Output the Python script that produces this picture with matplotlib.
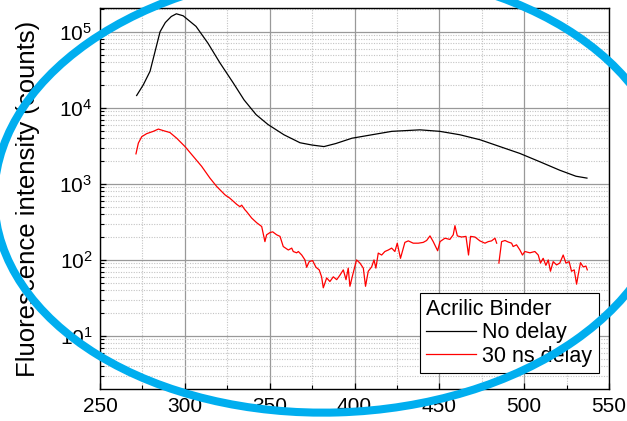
import matplotlib
matplotlib.use('Agg')
import matplotlib.pyplot as plt
import matplotlib.transforms as mtransforms
import numpy as np
from matplotlib.patches import Ellipse
from matplotlib.ticker import LogLocator, MultipleLocator, NullFormatter

# ---- data ----
bx = [271.6, 275.5, 279.5, 285.4, 288.5, 292.0, 295.0, 299.0, 306.6, 313.6,
      320.7, 328.6, 334.9, 342.0, 349.0, 358.4, 367.9, 374.9, 382.0, 389.0,
      398.5, 410.3, 422.0, 438.6, 450.3, 462.1, 474.0, 485.7, 497.5, 509.3,
      521.0, 530.5, 537.0]
by = [14500, 20000, 30200, 100000, 132000, 158500, 172000, 162000, 117500, 70800,
      38900, 21100, 12700, 8130, 6030, 4420, 3470, 3240, 3090, 3390,
      3980, 4420, 4900, 5130, 4900, 4420, 3800, 3090, 2510, 1950,
      1510, 1260, 1190]

rx = [271.2, 272.6, 274.6, 277.5, 281.4, 284.4, 287.3, 291.2, 295.2, 300.1,
      305.0, 309.9, 314.8, 318.8, 323.7, 326.6, 330.6, 332.5, 333.5, 335.4,
      336.4, 339.4, 342.3, 345.3, 347.2, 348.2, 350.2, 351.8, 354.1, 356.1,
      358.0, 361.0, 363.0, 363.9, 365.9, 366.9, 368.9, 370.8, 371.8, 373.3,
      375.3, 377.3, 379.2, 380.6, 381.6, 383.6, 385.5, 387.5, 389.5, 391.4,
      393.4, 395.0, 396.3, 397.3, 398.9, 401.2, 403.2, 405.2, 406.5, 408.1,
      410.1, 411.5, 412.6, 414.0, 416.0, 417.9, 419.9, 421.9, 423.8, 425.2,
      427.1, 429.7, 431.7, 434.6, 437.6, 440.5, 442.5, 444.5, 446.4, 449.0,
      450.4, 453.3, 456.2, 458.2, 459.2, 460.6, 463.1, 465.7, 467.2, 468.4,
      471.0, 473.9, 476.9, 478.8, 480.8, 482.8, 483.8, 484.4, 485.1, 486.7,
      488.7, 490.6, 492.6, 493.5, 495.5, 497.5, 499.0, 500.4, 503.4, 506.3,
      508.3, 509.6, 511.2, 512.8, 514.2, 515.5, 517.1, 519.1, 521.0, 523.0,
      524.6, 526.5, 527.9, 529.5, 530.9, 531.8, 533.2, 534.8, 536.4, 537.2]
ry = [2480, 3430, 4170, 4570, 4900, 5250, 5010, 4730, 3980, 3090,
      2290, 1700, 1190, 923, 716, 646, 537, 501, 525, 457,
      432, 355, 309, 275, 174, 214, 229, 234, 214, 204,
      150, 135, 143, 129, 124, 129, 116, 100, 80, 95,
      98, 80, 74, 60, 43, 58, 52, 60, 55, 63,
      74, 55, 78, 45, 63, 100, 91, 78, 45, 71,
      81, 100, 78, 123, 116, 129, 135, 143, 129, 166,
      105, 170, 178, 166, 166, 170, 180, 207, 174, 132,
      174, 193, 186, 214, 282, 207, 200, 204, 116, 204,
      200, 178, 166, 174, 178, 193, 166, np.nan, 91, 174,
      180, 172, 166, 150, 158, 135, 116, 129, 124, 129,
      116, 91, 105, 85, 100, 71, 95, 86, 91, 116,
      91, 95, 71, 74, 48, 63, 92, 81, 83, 74]

labels = ['No delay', '30 ns delay']
legend_title = 'Acrilic Binder'
ylabel = 'Fluorescence intensity (counts)'

# guide points of the hand-placed highlight ellipse (pixels, y measured from top)
ring_px = [(163, 0), (100, 31), (67, 63), (40, 85), (33, 100), (10, 133), (0, 145),
           (0, 222), (10, 260), (33, 300), (67, 333), (87, 350), (110, 363),
           (157, 385), (190, 398), (240, 407), (290, 412), (330, 413), (367, 408),
           (467, 387), (533, 363), (627, 303), (627, 78), (610, 63), (567, 30),
           (500, 0)]

W, H = 627, 421
plt.rcParams['font.family'] = ['Liberation Sans', 'DejaVu Sans']
plt.rcParams['mathtext.fontset'] = 'custom'
plt.rcParams['mathtext.rm'] = 'Liberation Sans'

fig = plt.figure(figsize=(W / 100, H / 100), dpi=100)
ax = fig.add_axes([100 / W, 1 - 389 / H, 509 / W, 381 / H])

ax.plot(bx, by, color='black', lw=0.9, label=labels[0])
ax.plot(rx, ry, color='#ff0000', lw=0.9, label=labels[1])

ax.set_yscale('log')
ax.set_xlim(250, 550)
ax.set_ylim(2.01, 2.05e5)
ax.xaxis.set_major_locator(MultipleLocator(50))
ax.xaxis.set_minor_locator(MultipleLocator(25))
ax.yaxis.set_major_locator(LogLocator(base=10, numticks=12))
ax.yaxis.set_minor_locator(LogLocator(base=10, subs=np.arange(2, 10), numticks=12))
ax.yaxis.set_minor_formatter(NullFormatter())

ax.grid(which='major', color='#999999', lw=0.9, ls='-')
ax.grid(which='minor', color='#c4c4c4', lw=0.8, ls=(0, (1, 1.3)))
ax.set_axisbelow(True)

ax.tick_params(which='both', direction='in', top=False, right=False, labelsize=15)
ax.tick_params(which='major', length=4.5, width=0.9, pad=5.5)
ax.tick_params(which='minor', length=3, width=0.8)
for s in ax.spines.values():
    s.set_linewidth(1.0)
    s.set_color('black')

ax.set_ylabel(ylabel, fontsize=18.5)
ax.yaxis.set_label_coords(-0.117, 0.5)

leg = ax.legend(title=legend_title, loc='lower right', bbox_to_anchor=(0.980, 0.042),
                borderaxespad=0, fontsize=15.5, title_fontsize=15.5, frameon=True,
                fancybox=False, edgecolor='black', framealpha=1, handlelength=2.3,
                handletextpad=0.3, labelspacing=0.1, borderpad=0.3, alignment='left')
leg.get_frame().set_linewidth(0.8)

# fit an ellipse (conic) through the guide points, in display pixels (y up)
pts = np.array(ring_px, dtype=float)
xs, ys = pts[:, 0], H - pts[:, 1]
Dm = np.column_stack([xs**2, xs * ys, ys**2, xs, ys])
A, B, C, D, E = np.linalg.lstsq(Dm, np.ones_like(xs), rcond=None)[0]
x0, y0 = np.linalg.solve([[2 * A, B], [B, 2 * C]], [-D, -E])
K = 1 - (A * x0**2 + B * x0 * y0 + C * y0**2 + D * x0 + E * y0)
M = np.array([[A, B / 2], [B / 2, C]]) / K
vals, vecs = np.linalg.eigh(M)
semi = 1 / np.sqrt(vals)
ang = np.degrees(np.arctan2(vecs[1, 0], vecs[0, 0]))
ring = Ellipse((x0, y0), 2 * semi[0], 2 * semi[1], angle=ang,
               transform=mtransforms.IdentityTransform(),
               fill=False, edgecolor='#00AEEF', lw=5.8, zorder=10, clip_on=False)
fig.add_artist(ring)

fig.savefig('out.png', dpi=100)
